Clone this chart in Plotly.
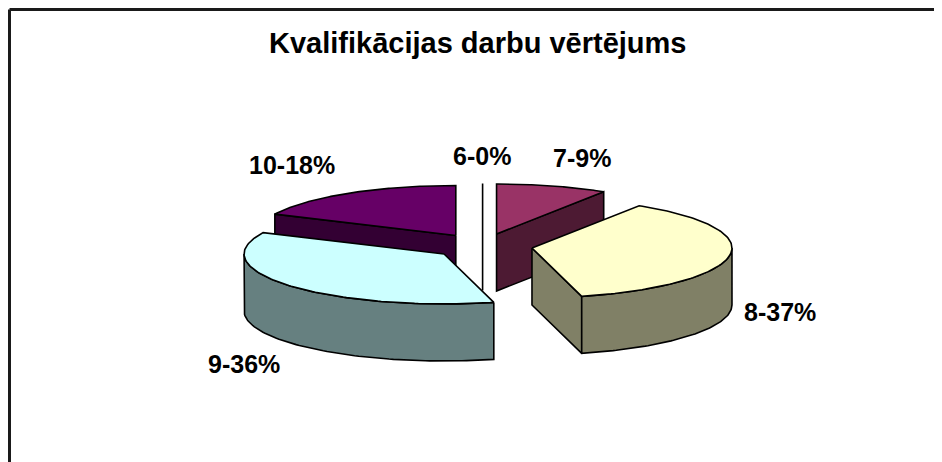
import numpy as np
import plotly.graph_objects as go

# ---- data ----
categories = ["6", "7", "8", "9", "10"]
values = [0, 9, 37, 36, 18]
labels = ["6-0%", "7-9%", "8-37%", "9-36%", "10-18%"]
title_text = "Kvalifikācijas darbu vērtējums"

# ---- style ----
top_colors = ["#ffffff", "#993366", "#ffffcc", "#ccffff", "#660066"]
side_colors = ["#808080", "#4d1a33", "#808066", "#668080", "#330033"]
label_pos = {"6": (482, 156), "7": (582, 158), "8": (780, 312), "9": (244, 364), "10": (292, 165)}

W, H = 942, 462
OFF = 8                    # page offset of the plot div
cx, cy = 482.6, 246.0      # pie centre (pixel-like axis units)
rx, ry = 200.0, 50.0       # tilted ellipse radii
depth = 57.0               # thickness of the pie
explode = 0.25             # explosion (fraction of radius)

total = float(sum(values))
fig = go.Figure()


def poly(xs, ys, fill):
    fig.add_trace(go.Scatter(
        x=list(xs) + [xs[0]], y=list(ys) + [ys[0]], mode="lines", fill="toself",
        fillcolor=fill, line=dict(color="#000000", width=1.6),
        hoverinfo="skip", showlegend=False))


slices = []
acc = 0.0
for i, v in enumerate(values):
    a1 = acc / total * 360.0
    acc += v
    a2 = acc / total * 360.0
    slices.append((i, a1, a2))

# painter's order: back (top of ellipse) first
order = sorted(slices, key=lambda s: -np.cos(np.radians((s[1] + s[2]) / 2)))

for i, a1, a2 in order:
    m = np.radians((a1 + a2) / 2)
    ax0 = cx + explode * rx * np.sin(m)
    ay0 = cy - explode * ry * np.cos(m)

    def P(theta_deg, r=1.0, z=0.0):
        t = np.radians(theta_deg)
        return ax0 + r * rx * np.sin(t), ay0 - r * ry * np.cos(t) + z

    if np.sin(np.radians(a1)) < -1e-9 or values[i] == 0:
        p0 = P(a1, 0); p1 = P(a1); p2 = P(a1, 1, depth); p3 = P(a1, 0, depth)
        poly([p0[0], p1[0], p2[0], p3[0]], [p0[1], p1[1], p2[1], p3[1]], side_colors[i])
    if np.sin(np.radians(a2)) > 1e-9 and values[i] > 0:
        p0 = P(a2, 0); p1 = P(a2); p2 = P(a2, 1, depth); p3 = P(a2, 0, depth)
        poly([p0[0], p1[0], p2[0], p3[0]], [p0[1], p1[1], p2[1], p3[1]], side_colors[i])
    lo, hi = max(a1, 90.0), min(a2, 270.0)
    if hi > lo:
        ts = np.linspace(lo, hi, 80)
        top = [P(t) for t in ts]
        bot = [P(t, 1, depth) for t in ts[::-1]]
        pts = top + bot
        poly([p[0] for p in pts], [p[1] for p in pts], side_colors[i])
    if values[i] > 0:
        ts = np.linspace(a1, a2, 120)
        pts = [P(a1, 0)] + [P(t) for t in ts]
        poly([p[0] for p in pts], [p[1] for p in pts], top_colors[i])

for c, lab in zip(categories, labels):
    x, y = label_pos[c]
    fig.add_annotation(x=x, y=y, text="<b>%s</b>" % lab, showarrow=False,
                       xanchor="center", yanchor="middle",
                       font=dict(family="Liberation Sans, Arial", size=25, color="#000000"))

fig.add_annotation(x=477, y=43, text="<b>%s</b>" % title_text, showarrow=False,
                   xanchor="center", yanchor="middle",
                   font=dict(family="Liberation Sans, Arial", size=29, color="#000000"))

# chart-area frame: only the top and left edges are in view
fig.add_shape(type="line", x0=9.5, y0=9.5, x1=W + OFF, y1=9.5,
              line=dict(color="#1a1a1a", width=3), layer="below")
fig.add_shape(type="line", x0=9.5, y0=9.5, x1=9.5, y1=H + OFF,
              line=dict(color="#1a1a1a", width=3), layer="below")

fig.update_layout(
    width=W, height=H, margin=dict(l=0, r=0, t=0, b=0),
    paper_bgcolor="#ffffff", plot_bgcolor="#ffffff",
    xaxis=dict(range=[OFF, W + OFF], visible=False, fixedrange=True),
    yaxis=dict(range=[H + OFF, OFF], visible=False, fixedrange=True),
    showlegend=False,
)

fig.write_html("out.html")
